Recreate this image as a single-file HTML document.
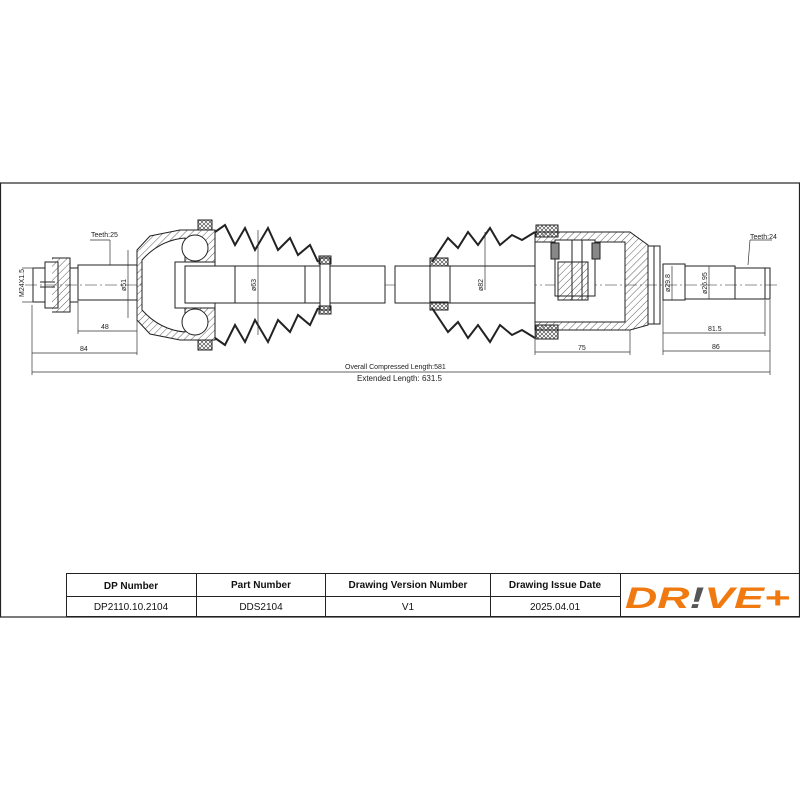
<!DOCTYPE html>
<html><head><meta charset="utf-8"><style>
body{margin:0;background:#fff;}
svg{display:block;font-family:"Liberation Sans",sans-serif;}
</style></head><body>
<svg width="800" height="800" viewBox="0 0 800 800">
<defs>
<pattern id="h" width="5" height="5" patternUnits="userSpaceOnUse" patternTransform="rotate(45)"><line x1="0" y1="0" x2="0" y2="5" stroke="#333" stroke-width="0.8"/></pattern>
<pattern id="x" width="4" height="4" patternUnits="userSpaceOnUse"><path d="M0 0L4 4M4 0L0 4" stroke="#333" stroke-width="0.6"/></pattern>
</defs>
<rect x="0.5" y="183" width="799" height="434" fill="none" stroke="#222" stroke-width="1.2"/>
<g stroke="#222" fill="none" stroke-width="1">
<!-- centerline -->
<line x1="25" y1="285" x2="780" y2="285" stroke-dasharray="12,3,2,3" stroke-width="0.6"/>
<!-- left nut -->
<rect x="33" y="268" width="12" height="34"/>
<rect x="45" y="262" width="13" height="46"/>
<path d="M52 258 L70 258 L70 312 L52 312" fill="url(#h)"/>
<line x1="40" y1="282" x2="55" y2="282"/><line x1="40" y1="287" x2="55" y2="287"/>
<!-- stub -->
<rect x="78" y="265" width="59" height="35"/>
<line x1="70" y1="268" x2="78" y2="268"/><line x1="70" y1="302" x2="78" y2="302"/>
<!-- outer housing -->
<path d="M137 250 L150 236 L180 230 L215 230 L215 340 L180 340 L150 334 L137 320 Z" fill="url(#h)"/>
<path d="M142 260 Q160 240 185 238 L185 332 Q160 330 142 310 Z" fill="#fff"/>
<circle cx="195" cy="248" r="13" fill="#fff"/><circle cx="195" cy="322" r="13" fill="#fff"/>
<rect x="175" y="262" width="40" height="46" fill="#fff"/>
<rect x="198" y="220" width="14" height="10" fill="url(#x)"/><rect x="198" y="340" width="14" height="10" fill="url(#x)"/>
<!-- shaft -->
<rect x="185" y="266" width="200" height="37" fill="#fff"/>
<line x1="235" y1="266" x2="235" y2="303"/><line x1="305" y1="266" x2="305" y2="303"/>
<!-- outer boot -->
<path d="M215 232 L225 225 L235 245 L245 228 L255 250 L268 228 L278 250 L290 238 L298 255 L310 245 L318 262 M215 338 L225 345 L235 325 L245 342 L255 320 L268 342 L278 320 L290 332 L298 315 L310 325 L318 308" stroke-width="2"/>
<rect x="320" y="258" width="10" height="52" fill="#fff"/>
<rect x="319" y="256" width="12" height="8" fill="url(#x)"/><rect x="319" y="306" width="12" height="8" fill="url(#x)"/>
<!-- right shaft -->
<rect x="395" y="266" width="140" height="37" fill="#fff"/>
<line x1="430" y1="266" x2="430" y2="303"/><line x1="450" y1="266" x2="450" y2="303"/>
<!-- inner boot -->
<path d="M432 262 L448 238 L458 248 L468 232 L478 245 L490 228 L500 245 L512 235 L522 240 L535 232 M432 308 L448 332 L458 322 L468 338 L478 325 L490 342 L500 325 L512 335 L522 330 L535 338" stroke-width="2"/>
<rect x="430" y="258" width="18" height="8" fill="url(#x)"/><rect x="430" y="302" width="18" height="8" fill="url(#x)"/>
<rect x="536" y="225" width="22" height="12" fill="url(#x)"/><rect x="536" y="325" width="22" height="14" fill="url(#x)"/>
<!-- inner housing -->
<path d="M535 232 L630 232 L648 245 L648 325 L630 330 L535 330 L535 322 L625 322 L625 242 L535 242 Z" fill="url(#h)"/>
<line x1="535" y1="232" x2="535" y2="330"/>
<!-- tripod -->
<rect x="555" y="240" width="40" height="56" fill="#fff"/>
<rect x="558" y="262" width="30" height="38" fill="url(#h)"/>
<rect x="551" y="243" width="8" height="16" fill="#888"/><rect x="592" y="243" width="8" height="16" fill="#888"/>
<line x1="572" y1="240" x2="572" y2="300"/><line x1="582" y1="240" x2="582" y2="300"/>
<rect x="648" y="246" width="12" height="78"/><line x1="654" y1="246" x2="654" y2="324"/>
<!-- right stub -->
<rect x="663" y="264" width="22" height="36"/>
<rect x="685" y="266" width="50" height="33"/>
<rect x="735" y="268" width="35" height="31"/>
<line x1="765" y1="268" x2="765" y2="299"/>
</g>
<g stroke="#333" stroke-width="0.7" fill="none">
<!-- dims -->
<line x1="78" y1="331" x2="137" y2="331"/><line x1="78" y1="300" x2="78" y2="334"/><line x1="137" y1="300" x2="137" y2="355"/>
<line x1="32" y1="353" x2="137" y2="353"/><line x1="32" y1="305" x2="32" y2="375"/>
<line x1="32" y1="372" x2="770" y2="372"/><line x1="770" y1="300" x2="770" y2="375"/>
<line x1="535" y1="352" x2="630" y2="352"/><line x1="535" y1="330" x2="535" y2="355"/><line x1="630" y1="330" x2="630" y2="355"/>
<line x1="663" y1="333" x2="765" y2="333"/><line x1="663" y1="300" x2="663" y2="355"/><line x1="765" y1="300" x2="765" y2="336"/>
<line x1="663" y1="351" x2="770" y2="351"/>
<line x1="128" y1="250" x2="128" y2="318"/><line x1="258" y1="230" x2="258" y2="335"/>
<line x1="485" y1="232" x2="485" y2="290"/>
<line x1="672" y1="266" x2="672" y2="300"/><line x1="709" y1="266" x2="709" y2="299"/>
<line x1="90" y1="240" x2="110" y2="240"/><line x1="110" y1="240" x2="110" y2="265"/>
<line x1="750" y1="240" x2="772" y2="240"/><line x1="750" y1="240" x2="748" y2="265"/>
<line x1="22" y1="268" x2="35" y2="268"/><line x1="22" y1="302" x2="35" y2="302"/>
</g>
<g font-size="7" fill="#222">
<text x="91" y="237">Teeth:25</text>
<text x="750" y="239">Teeth:24</text>
<text x="101" y="329">48</text>
<text x="80" y="351">84</text>
<text x="578" y="350">75</text>
<text x="708" y="331">81.5</text>
<text x="712" y="349">86</text>
<text x="345" y="369">Overall Compressed Length:581</text>
<text x="357" y="381" font-size="8">Extended Length: 631.5</text>
<text transform="translate(24,297) rotate(-90)">M24X1.5</text>
<text transform="translate(126,291) rotate(-90)">ø51</text>
<text transform="translate(256,291) rotate(-90)">ø63</text>
<text transform="translate(483,291) rotate(-90)">ø82</text>
<text transform="translate(670,292) rotate(-90)">ø29.8</text>
<text transform="translate(707,294) rotate(-90)">ø26.95</text>
</g>
<!-- table -->
<g stroke="#222" stroke-width="1" fill="none">
<rect x="66.5" y="573.5" width="733" height="43"/>
<line x1="66" y1="596.5" x2="620" y2="596.5"/>
<line x1="196.5" y1="573" x2="196.5" y2="617"/>
<line x1="325.5" y1="573" x2="325.5" y2="617"/>
<line x1="490.5" y1="573" x2="490.5" y2="617"/>
<line x1="620.5" y1="573" x2="620.5" y2="617"/>
</g>
<g font-size="10" fill="#111" text-anchor="middle">
<text x="131" y="589" font-weight="bold">DP Number</text>
<text x="261" y="588" font-weight="bold">Part Number</text>
<text x="408" y="588" font-weight="bold">Drawing Version Number</text>
<text x="555" y="588" font-weight="bold">Drawing Issue Date</text>
<text x="131" y="610">DP2110.10.2104</text>
<text x="261" y="610">DDS2104</text>
<text x="408" y="610">V1</text>
<text x="555" y="610">2025.04.01</text>
</g>
<text x="625" y="608" font-size="30" font-weight="bold" font-style="italic" fill="#f07a10" textLength="165" lengthAdjust="spacingAndGlyphs">DR<tspan fill="#555">!</tspan>VE+</text>
</svg>
</body></html>
